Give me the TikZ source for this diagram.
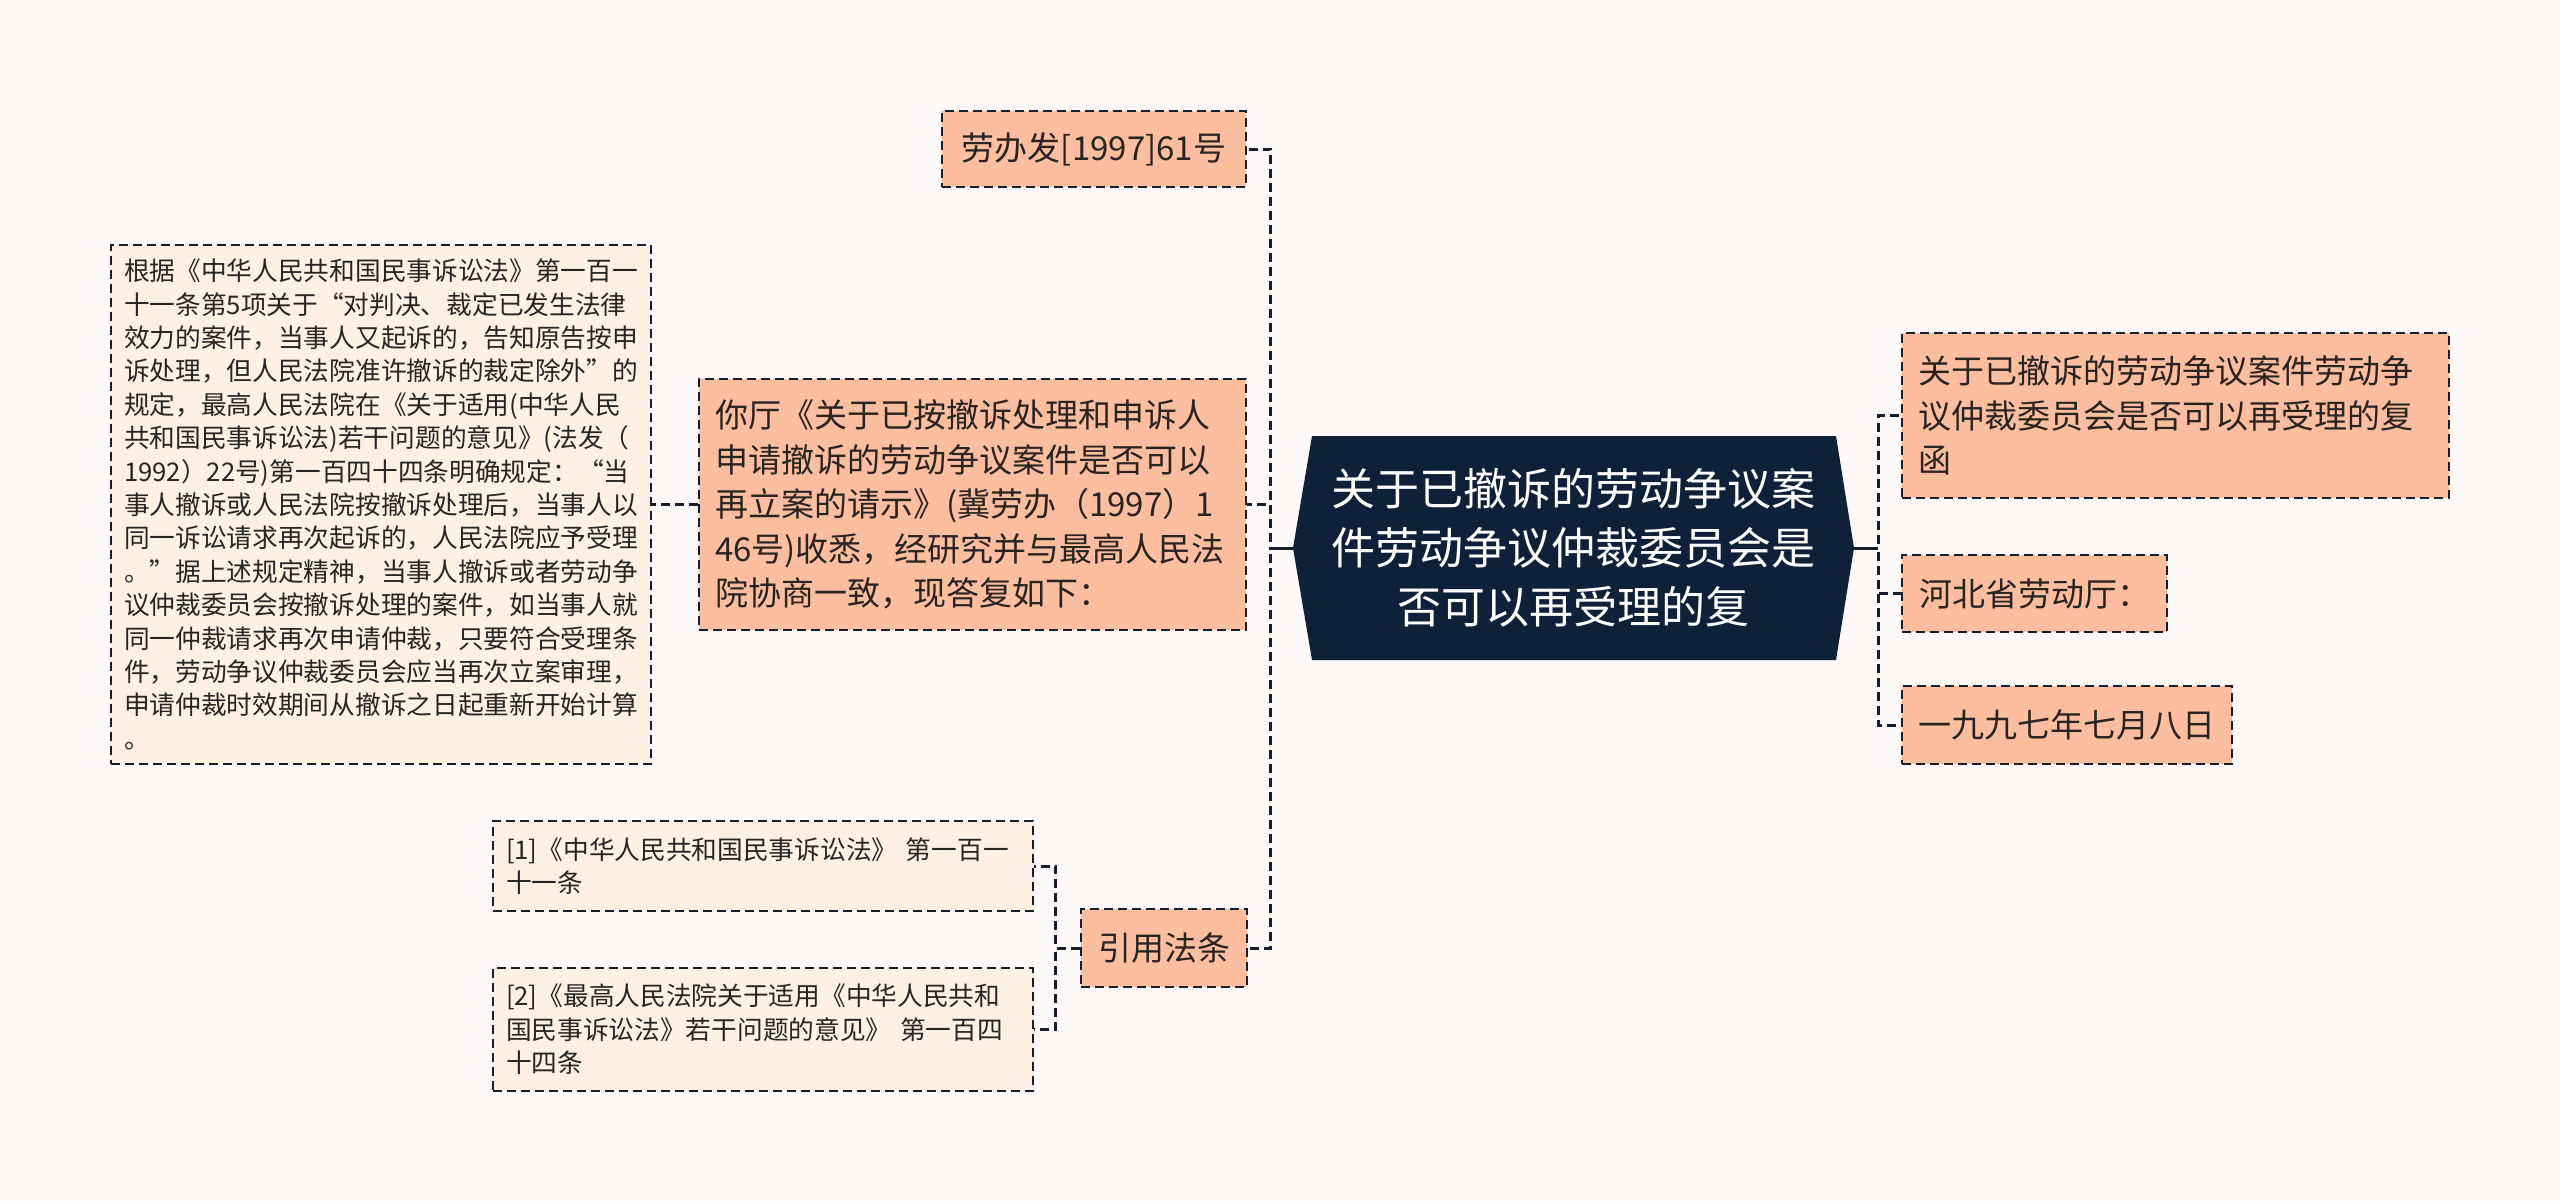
\documentclass[tikz,border=0pt]{standalone}
\usepackage{fontspec}
\setmainfont{Noto Sans CJK SC}
\definecolor{bgc}{RGB}{253,249,248}
\definecolor{orangec}{RGB}{252,190,158}
\definecolor{lightc}{RGB}{254,241,227}
\definecolor{rootc}{RGB}{15,32,57}
\definecolor{linec}{RGB}{22,30,46}
\definecolor{txtc}{RGB}{40,36,34}
\newcommand\fsroot{\fontsize{44}{59}\selectfont}
\newcommand\fsmid{\fontsize{33}{44.6}\selectfont}
\newcommand\fssmall{\fontsize{25.7}{33.4}\selectfont}
\begin{document}
\begin{tikzpicture}[x=1pt,y=-1pt,
  basebox/.style={draw=linec, line width=2.8pt, dash pattern=on 9pt off 5pt, rectangle, inner ysep=0pt, text=txtc},
  obox/.style={basebox, fill=orangec, inner xsep=16pt, font=\fsmid, align=left},
  lbox/.style={basebox, fill=lightc, inner xsep=13pt, font=\fssmall, align=left},
  conn/.style={draw=linec, line width=3pt, dash pattern=on 9pt off 5pt},
  solidconn/.style={draw=linec, line width=3pt},
  rootnode/.style={rectangle, inner sep=0pt, minimum width=561pt, minimum height=224pt, text=white, font=\fsroot, align=center}
]
\fill[bgc] (0,0) rectangle (2560,1203);
\useasboundingbox (0,0) rectangle (2560,1203);

% root shape
\fill[rootc] (1293,548) -- (1312,436) -- (1836,436) -- (1854,548) -- (1836,660) -- (1312,660) -- cycle;
\node[rootnode] (root) at (1573.5,548) {关于已撤诉的劳动争议案\\件劳动争议仲裁委员会是\\否可以再受理的复};

% left children
\node[obox, minimum width=304pt, minimum height=76pt, align=center, inner xsep=0pt] (b1) at (1094,149) {劳办发[1997]61号};
\node[obox, text width=515pt, minimum height=251pt] (b2) at (972.5,504.5) {你厅《关于已按撤诉处理和申诉人\\申请撤诉的劳动争议案件是否可以\\再立案的请示》(冀劳办（1997）1\\46号)收悉，经研究并与最高人民法\\院协商一致，现答复如下：};
\node[obox, minimum width=166pt, minimum height=78pt, align=center, inner xsep=0pt] (b3) at (1164,948) {引用法条};

\node[lbox, text width=514pt, minimum height=519pt] (big) at (381,504.5) {根据《中华人民共和国民事诉讼法》第一百一\\十一条第5项关于“对判决、裁定已发生法律\\效力的案件，当事人又起诉的，告知原告按申\\诉处理，但人民法院准许撤诉的裁定除外”的\\规定，最高人民法院在《关于适用(中华人民\\共和国民事诉讼法)若干问题的意见》(法发（\\1992）22号)第一百四十四条明确规定：“当\\事人撤诉或人民法院按撤诉处理后，当事人以\\同一诉讼请求再次起诉的，人民法院应予受理\\。”据上述规定精神，当事人撤诉或者劳动争\\议仲裁委员会按撤诉处理的案件，如当事人就\\同一仲裁请求再次申请仲裁，只要符合受理条\\件，劳动争议仲裁委员会应当再次立案审理，\\申请仲裁时效期间从撤诉之日起重新开始计算\\。};

\node[lbox, text width=514pt, minimum height=90pt] (r1) at (763,866) {[1]《中华人民共和国民事诉讼法》 第一百一\\十一条};
\node[lbox, text width=514pt, minimum height=123pt] (r2) at (763,1029.5) {[2]《最高人民法院关于适用《中华人民共和\\国民事诉讼法》若干问题的意见》 第一百四\\十四条};

% right children
\node[obox, text width=515pt, minimum height=165pt] (c1) at (2175.5,415.5) {关于已撤诉的劳动争议案件劳动争\\议仲裁委员会是否可以再受理的复\\函};
\node[obox, minimum width=265pt, minimum height=77pt, align=center, inner xsep=0pt] (c2) at (2034.5,593.5) {河北省劳动厅：};
\node[obox, minimum width=330pt, minimum height=78pt, align=center, inner xsep=0pt] (c3) at (2067,725) {一九九七年七月八日};

% connectors
\draw[conn] (root.west) -- ++(-22,0) |- (b1.east);
\draw[conn] (root.west) -- ++(-22,0) |- (b2.east);
\draw[conn] (root.west) -- ++(-22,0) |- (b3.east);
\draw[solidconn] (root.west) -- ++(-22,0);
\draw[conn] (b2.west) -- (big.east);
\draw[conn] (b3.west) -- ++(-24,0) |- (r1.east);
\draw[conn] (b3.west) -- ++(-24,0) |- (r2.east);
\draw[conn] (root.east) -- ++(24,0) |- (c1.west);
\draw[conn] (root.east) -- ++(24,0) |- (c2.west);
\draw[conn] (root.east) -- ++(24,0) |- (c3.west);
\draw[solidconn] (root.east) -- ++(24,0);
\end{tikzpicture}
\end{document}
